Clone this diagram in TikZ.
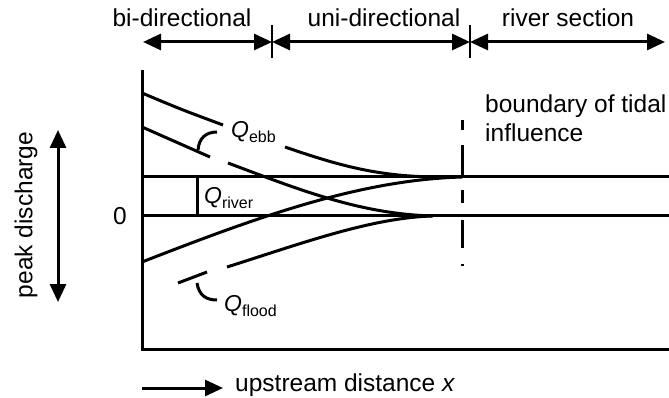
\documentclass[tikz,border=0pt]{standalone}
\usepackage{fontspec}
\setmainfont{Liberation Sans}
\usetikzlibrary{arrows.meta}
\tikzset{
  lbl/.style={inner sep=0pt, font=\fontsize{24.5}{29}\selectfont},
  qlbl/.style={inner sep=0pt, anchor=base west, font=\fontsize{23}{27}\selectfont},
  dbl/.style={line width=3pt, {Triangle[length=18pt,width=16pt]}-{Triangle[length=18pt,width=16pt]}},
  curve/.style={line width=3pt},
}
\newcommand{\qsub}[2]{\textit{#1}\raisebox{-5pt}{\fontsize{16}{19}\selectfont #2}}
\begin{document}
\begin{tikzpicture}[x=1pt,y=-1pt]
\useasboundingbox (0,0) rectangle (669,398);
\node[lbl, anchor=base] (bi) at (182,27) {bi-directional};
\node[lbl, anchor=base] (uni) at (384,27) {uni-directional};
\node[lbl, anchor=base] (riv) at (568,27) {river section};
\coordinate (h0) at (143,42);
\coordinate (h1) at (272,42);
\coordinate (h2) at (470,42);
\coordinate (h3) at (665,42);
\draw[dbl] (h0) -- (h1);
\draw[dbl] (h1) -- (h2);
\draw[dbl] (h2) -- (h3);
\draw[line width=2pt] (272,25) -- (272,58);
\draw[line width=2pt] (470,25) -- (470,58);

\draw[curve] (142,70) -- (142,349) -- (669,349);
\draw[curve] (142,177) -- (669,177);
\draw[curve] (142,216) -- (669,216);
\draw[curve] (197,177) -- (197,216);
\draw[curve, dash pattern=on 10pt off 15pt on 33pt off 12pt on 13pt off 17pt on 28pt off 16pt on 2pt off 20pt] (462,120) -- (462,266);

\draw[curve] (142,93) .. controls (180,109) .. (223,125);
\draw[curve] (285,147) .. controls (340,166) and (380,177) .. (440,177);
\draw[curve] (142,127) -- (210,157);
\draw[curve] (228,163) .. controls (300,190) and (360,214) .. (433,216);
\draw[curve] (142,262) .. controls (260,216) and (360,180) .. (462,177);
\draw[curve] (178,283) -- (207,272);
\draw[curve] (227,267) .. controls (300,244) and (370,218) .. (432,216);
\draw[curve] (198,150) .. controls (199,138) and (206,132) .. (217,132);
\draw[curve] (197,283) .. controls (199,296) and (207,300) .. (217,300);

\node[qlbl] (qe) at (231,138) {\qsub{Q}{ebb}};
\node[qlbl] (qr) at (204,204) {\qsub{Q}{river}};
\node[qlbl] (qf) at (224,311) {\qsub{Q}{flood}};
\node[lbl, anchor=base west] (bd1) at (485,113) {boundary of tidal};
\node[lbl, anchor=base west] (bd2) at (485,142) {influence};
\node[lbl] (zero) at (120,216) {0};

\node[lbl, rotate=90] (pk) at (26,215) {peak discharge};
\coordinate (pa) at (58,130);
\coordinate (pb) at (58,302);
\draw[dbl] (pa) -- (pb);

\coordinate (ua) at (142,388);
\coordinate (ub) at (223,388);
\draw[line width=3pt, -{Triangle[length=18pt,width=16pt]}] (ua) -- (ub);
\node[lbl, anchor=base west] (up) at (235,391) {upstream distance \textit{x}};
\end{tikzpicture}
\end{document}
